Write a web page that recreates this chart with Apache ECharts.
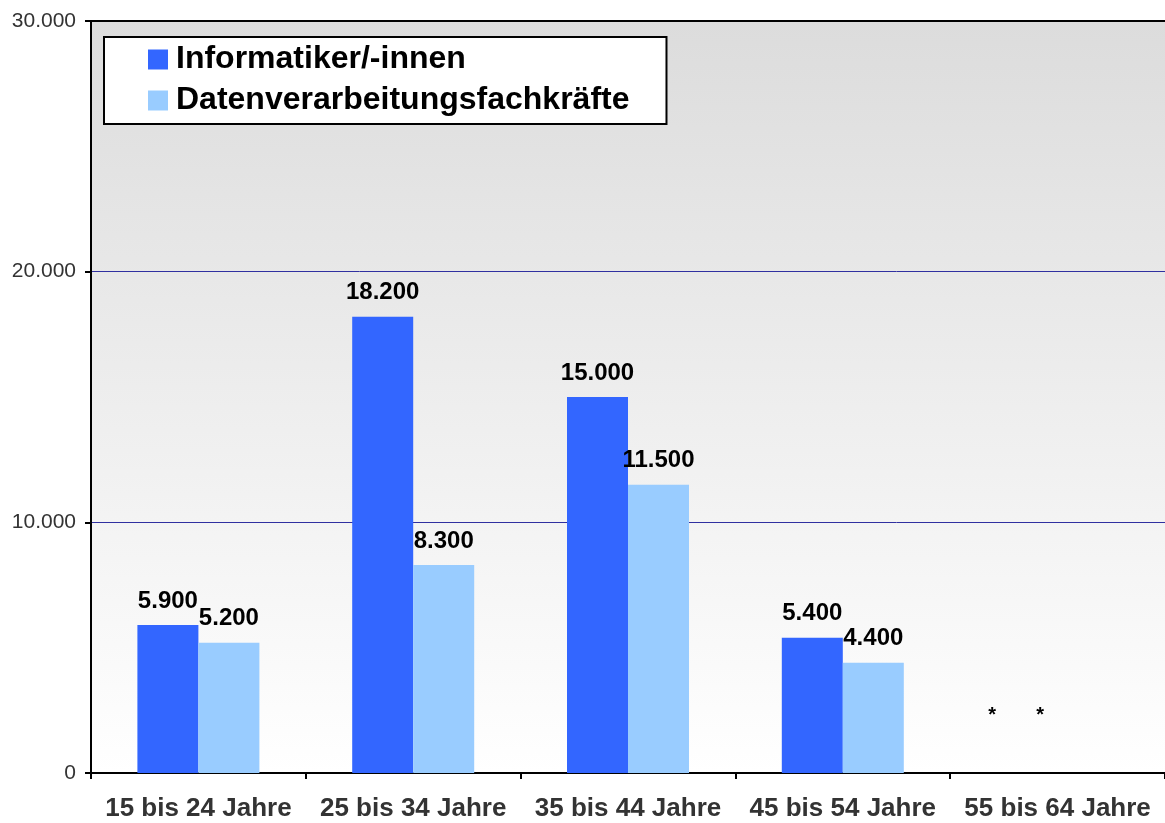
<!DOCTYPE html>
<html>
<head>
<meta charset="utf-8">
<script src="https://cdn.jsdelivr.net/npm/echarts@6/dist/echarts.min.js"></script>
<style>
html,body{margin:0;padding:0;background:#fff;}
#chart{width:1165px;height:823px;}
</style>
</head>
<body>
<div id="chart"></div>
<script>
const categories = ['15 bis 24 Jahre', '25 bis 34 Jahre', '35 bis 44 Jahre', '45 bis 54 Jahre', '55 bis 64 Jahre'];
const seriesNames = ['Informatiker/-innen', 'Datenverarbeitungsfachkräfte'];
const informatiker = [5900, 18200, 15000, 5400, null];
const datenverarbeitung = [5200, 8300, 11500, 4400, null];
const yTicks = [0, 10000, 20000, 30000];

const fmt = v => v === 0 ? '0' : String(v).replace(/\B(?=(\d{3})+(?!\d))/g, '.');

function toData(arr, starOffset) {
  return arr.map(v => v === null
    ? { value: 0, label: { formatter: '*', offset: starOffset, fontSize: 20 } }
    : v);
}

const chart = echarts.init(document.getElementById('chart'));
const labelStyle = {
  show: true, position: 'top', distance: 12,
  fontFamily: 'Liberation Sans', fontWeight: 'bold', fontSize: 24, color: '#000',
  formatter: p => fmt(p.value)
};
const yMax = yTicks[yTicks.length - 1];
chart.setOption({
  animation: false,
  textStyle: { fontFamily: 'Liberation Sans' },
  grid: {
    left: 91, right: 0, top: 21, bottom: 50,
    show: true, borderWidth: 0,
    backgroundColor: new echarts.graphic.LinearGradient(0, 0, 0, 1, [
      { offset: 0, color: '#dcdcdc' },
      { offset: 1, color: '#ffffff' }
    ])
  },
  legend: {
    orient: 'vertical', left: 104, top: 37,
    padding: [4, 37, 5, 44],
    backgroundColor: '#fff', borderColor: '#000', borderWidth: 2,
    itemWidth: 20, itemHeight: 20, itemGap: 4, icon: 'rect',
    textStyle: { fontFamily: 'Liberation Sans', fontWeight: 'bold', fontSize: 32, color: '#000', lineHeight: 37, padding: [0, 0, 0, 3] },
    data: seriesNames
  },
  xAxis: {
    type: 'category', data: categories,
    axisLine: { lineStyle: { color: '#000', width: 2 } },
    axisTick: { show: true, interval: 0, length: 6, lineStyle: { color: '#000', width: 2 } },
    axisLabel: { interval: 0, fontFamily: 'Liberation Sans', fontWeight: 'bold', fontSize: 26, color: '#333', margin: 23 }
  },
  yAxis: {
    type: 'value', min: yTicks[0], max: yMax, interval: yTicks[1] - yTicks[0],
    axisLine: { show: true, lineStyle: { color: '#000', width: 2 } },
    axisTick: { show: true, length: 6, lineStyle: { color: '#000', width: 2 } },
    axisLabel: { fontFamily: 'Liberation Sans', fontSize: 21, color: '#333', margin: 15, formatter: fmt },
    splitLine: { show: true, lineStyle: { color: '#3030a0', width: 1 } }
  },
  series: [
    {
      name: seriesNames[0], type: 'bar', data: toData(informatiker, [-35, -36]),
      barWidth: 61, barGap: '0%',
      itemStyle: { color: '#3366ff' }, label: labelStyle,
      markLine: {
        silent: true, symbol: 'none', label: { show: false },
        lineStyle: { color: '#000', width: 2, type: 'solid' },
        data: [{ yAxis: yMax }]
      }
    },
    {
      name: seriesNames[1], type: 'bar', data: toData(datenverarbeitung, [-48, -36]),
      barWidth: 61, barGap: '0%',
      itemStyle: { color: '#99ccff' }, label: labelStyle
    }
  ]
});
</script>
</body>
</html>
